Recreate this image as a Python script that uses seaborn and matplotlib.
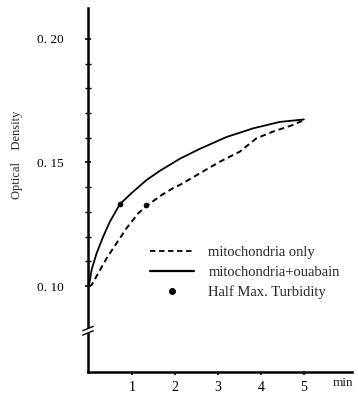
import matplotlib
matplotlib.use("Agg")
import matplotlib.pyplot as plt
import seaborn as sns
import pandas as pd
from matplotlib.lines import Line2D
from matplotlib.ticker import FixedLocator, FuncFormatter

# ---- data ----
t_only = [0.0, 0.063, 0.216, 0.412, 0.644, 0.877, 1.147, 1.342, 1.691, 1.960, 2.116,
          2.581, 3.047, 3.512, 3.900, 4.286, 4.751, 5.0]
od_only = [0.100, 0.1004, 0.1051, 0.1112, 0.1173, 0.1234, 0.1294, 0.1324, 0.1368, 0.1396, 0.1409,
           0.1456, 0.1503, 0.1544, 0.1598, 0.1625, 0.1652, 0.1672]

t_ouab = [0.0, 0.063, 0.179, 0.333, 0.488, 0.721, 0.993, 1.342, 1.651, 2.116, 2.581,
          3.202, 3.821, 4.442, 5.0]
od_ouab = [0.100, 0.1065, 0.1132, 0.1200, 0.1260, 0.1331, 0.1376, 0.1429, 0.1466, 0.1515, 0.1555,
           0.1603, 0.1638, 0.1664, 0.1674]

half_t = [0.72, 1.34]
half_od = [0.1331, 0.1328]

x_ticks = [1, 2, 3, 4, 5]
y_major = [0.10, 0.15, 0.20]
y_minor = [0.11, 0.12, 0.13, 0.14, 0.16, 0.17, 0.18, 0.19]

labels = ["mitochondria only", "mitochondria+ouabain", "Half Max. Turbidity"]

# ---- style ----
sns.set_theme(style="ticks")
plt.rcParams["font.family"] = ["Liberation Serif", "DejaVu Serif"]

fig = plt.figure(figsize=(3.58, 3.95), dpi=100)
ax = fig.add_axes([88 / 358, 1 - 372 / 395, (352 - 88) / 358, (372 - 8) / 395])

df_only = pd.DataFrame({"t": t_only, "od": od_only})
df_ouab = pd.DataFrame({"t": t_ouab, "od": od_ouab})

sns.lineplot(data=df_only, x="t", y="od", ax=ax, color="black", lw=1.4,
             linestyle=(0, (3, 2)), sort=True)
sns.lineplot(data=df_ouab, x="t", y="od", ax=ax, color="black", lw=1.3, sort=True)
sns.scatterplot(x=half_t, y=half_od, ax=ax, color="black", s=14, edgecolor="black", zorder=5)

ax.set_xlim(-0.02, 6.12)
ax.set_ylim(0.0652, 0.2125)

for s in ["top", "right"]:
    ax.spines[s].set_visible(False)
for s in ["left", "bottom"]:
    ax.spines[s].set_linewidth(1.8)
    ax.spines[s].set_color("black")

ax.set_xticks(x_ticks)
ax.set_xticklabels([str(v) for v in x_ticks])
ax.yaxis.set_major_locator(FixedLocator(y_major))
ax.yaxis.set_minor_locator(FixedLocator(y_minor))
ax.yaxis.set_major_formatter(FuncFormatter(lambda v, p: "0. %02d" % round(v * 100)))

ax.tick_params(axis="x", direction="out", length=2.5, width=1.2, pad=4, labelsize=10, colors="black")
ax.tick_params(axis="y", which="major", direction="inout", length=5, width=1.2, pad=15, labelsize=9.5, colors="black")
ax.tick_params(axis="y", which="minor", direction="inout", length=4, width=1.0, colors="black")

ax.set_xlabel("")
ax.set_ylabel("")
fig.text(17 / 358, 1 - 155 / 395, "Optical    Density", rotation=90, ha="center", va="center", fontsize=9)
fig.text(343 / 358, 1 - 383 / 395, "min", ha="center", va="center", fontsize=9.5)

# axis break marks
yb = (372 - 330) / (372 - 8)
ax.plot([-0.02, 0.02], [yb - 0.01, yb + 0.004], transform=ax.transAxes, color="white", lw=3, clip_on=False, zorder=6)
for dy in (-0.006, 0.006):
    ax.plot([-0.02, 0.02], [yb - 0.008 + dy, yb + 0.004 + dy], transform=ax.transAxes,
            color="black", lw=1.0, clip_on=False, zorder=7)

handles = [
    Line2D([], [], color="black", lw=1.3, linestyle=(0, (3, 2))),
    Line2D([], [], color="black", lw=1.6),
    Line2D([], [], color="black", marker="o", markersize=4, linestyle="none"),
]
leg = ax.legend(handles, labels, loc="upper left", bbox_to_anchor=(150 / 358, 1 - 246 / 395),
                bbox_transform=fig.transFigure, frameon=False, fontsize=10.5, handlelength=3.0,
                handletextpad=1.0, labelspacing=0.45, borderpad=0, borderaxespad=0)

fig.savefig("out.png", dpi=100)
